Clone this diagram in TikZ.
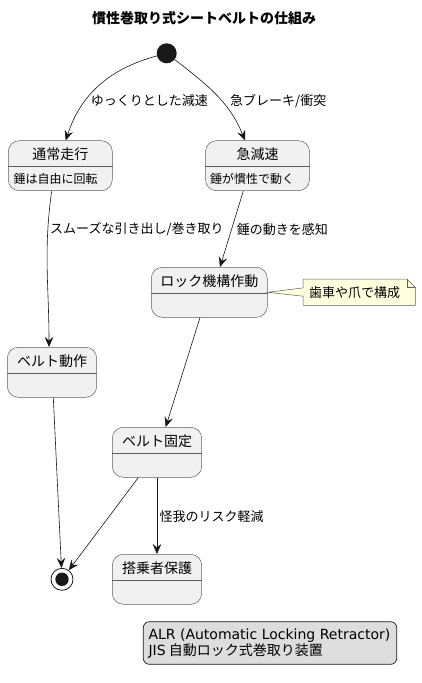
\documentclass[tikz,border=0pt]{standalone}
\usepackage{fontspec}
\setmainfont{Noto Sans CJK JP}
\newfontfamily\dv{DejaVu Sans}
\usetikzlibrary{arrows.meta}
\definecolor{linec}{HTML}{181818}
\definecolor{bordc}{HTML}{5E5E5E}
\definecolor{stfill}{HTML}{F1F1F1}
\definecolor{notefill}{HTML}{FEFFDD}
\definecolor{legfill}{HTML}{DDDDDD}
\tikzset{
  x=1pt, y=1pt,
  st/.style={draw=bordc, fill=stfill, rounded corners=11pt, line width=0.5pt, minimum height=50pt, inner sep=0pt},
  divl/.style={draw=bordc, line width=0.5pt},
  ttl/.style={font=\fontsize{14}{16}\selectfont, inner sep=0pt},
  bodytxt/.style={font=\fontsize{12}{14}\selectfont, inner sep=0pt, anchor=west},
  lbl/.style={font=\fontsize{13}{15}\selectfont, inner sep=0pt, anchor=west},
  tr/.style={draw=linec, line width=0.6pt, -{Stealth[length=10pt,width=8.5pt,inset=3.5pt]}},
}
\newcommand\mystate[5]{%
  \node[st, minimum width=#4pt] (#1) at (#2,-#3) {};
  \draw[divl] ([yshift=-0.7pt]#1.west) -- ([yshift=-0.7pt]#1.east);
  \node[ttl] (#1t) at ([yshift=11.5pt]#1.center) {#5};
}
\begin{document}
\begin{tikzpicture}
\useasboundingbox (0,0) rectangle (421,-683);
% title
\node[font=\bfseries\fontsize{14}{16}\selectfont, inner sep=0pt] (title) at (204,-18) {慣性巻取り式シートベルトの仕組み};
% initial
\node[circle, fill=linec, minimum size=20pt, inner sep=0pt] (init) at (166.7,-53.3) {};
% states
\mystate{s1}{60.3}{165.7}{104}{通常走行}
\node[bodytxt] (s1b) at (13.3,-179) {錘は自由に回転};
\mystate{s2}{257.5}{165.7}{104}{急減速}
\node[bodytxt] (s2b) at (210,-179) {錘が慣性で動く};
\mystate{lock}{209.3}{292.3}{116}{ロック機構作動}
\mystate{s3}{52}{372.3}{89.4}{ベルト動作}
\mystate{fix}{157}{452.3}{89.4}{ベルト固定}
\mystate{prot}{157}{579.3}{89.4}{搭乗者保護}
% final
\node[circle, draw=linec, line width=0.8pt, minimum size=22pt, inner sep=0pt] (fin) at (62,-579.3) {};
\fill[linec] (fin.center) circle (6.7pt);
% note
\node[minimum width=111.7pt, minimum height=25.7pt, inner sep=0pt] (note) at (359.2,-292.2) {};
\filldraw[draw=bordc, fill=notefill, line width=0.5pt]
  (lock.east) -- ([yshift=4.3pt]note.west) -- (note.north west) -- ([xshift=-8pt]note.north east)
  -- ([yshift=-8pt]note.north east) -- (note.south east) -- (note.south west) -- ([yshift=-4pt]note.west) -- cycle;
\draw[bordc, line width=0.5pt] ([xshift=-8pt]note.north east) -- ([xshift=-8pt,yshift=-8pt]note.north east) -- ([yshift=-8pt]note.north east);
\node[lbl] (notet) at (309,-292.7) {歯車や爪で構成};
% transitions
\draw[tr] (init) to[out=195, in=72] ([xshift=5.4pt]s1.north);
\node[lbl] (l1) at (90.7,-101) {ゆっくりとした減速};
\draw[tr] (init) to[out=-38, in=112] ([xshift=-12.5pt]s2.north);
\node[lbl] (l2) at (230,-101) {急ブレーキ/衝突};
\draw[tr] ([xshift=-8.6pt]s1.south) to[out=-98, in=90] ([xshift=-3pt]s3.north);
\node[lbl] (l3) at (50,-229.3) {スムーズな引き出し/巻き取り};
\draw[tr] ([xshift=-14.2pt]s2.south) -- ([xshift=10.7pt]lock.north);
\node[lbl] (l4) at (236.7,-229.3) {錘の動きを感知};
\draw[tr] ([xshift=-9.3pt]lock.south) -- ([xshift=8.7pt]fix.north);
\draw[tr] ([xshift=1.3pt]s3.south) -- (fin);
\draw[tr] ([xshift=-18.7pt]fix.south) -- (fin);
\draw[tr] (fix.south) -- (prot.north);
\node[lbl] (l5) at (159.3,-516.7) {怪我のリスク軽減};
% legend
\node[draw=linec, fill=legfill, rounded corners=6pt, line width=0.7pt, minimum width=253.4pt, minimum height=42.6pt, inner sep=0pt] (leg) at (270,-643) {};
\node[anchor=west, inner sep=0pt, font=\fontsize{14}{16}\selectfont] (leg1) at (148.3,-635.7) {\dv ALR (Automatic Locking Retractor)};
\node[anchor=west, inner sep=0pt, font=\fontsize{14}{16}\selectfont] (leg2) at (148.3,-650.7) {{\dv JIS} 自動ロック式巻取り装置};
\end{tikzpicture}
\end{document}
